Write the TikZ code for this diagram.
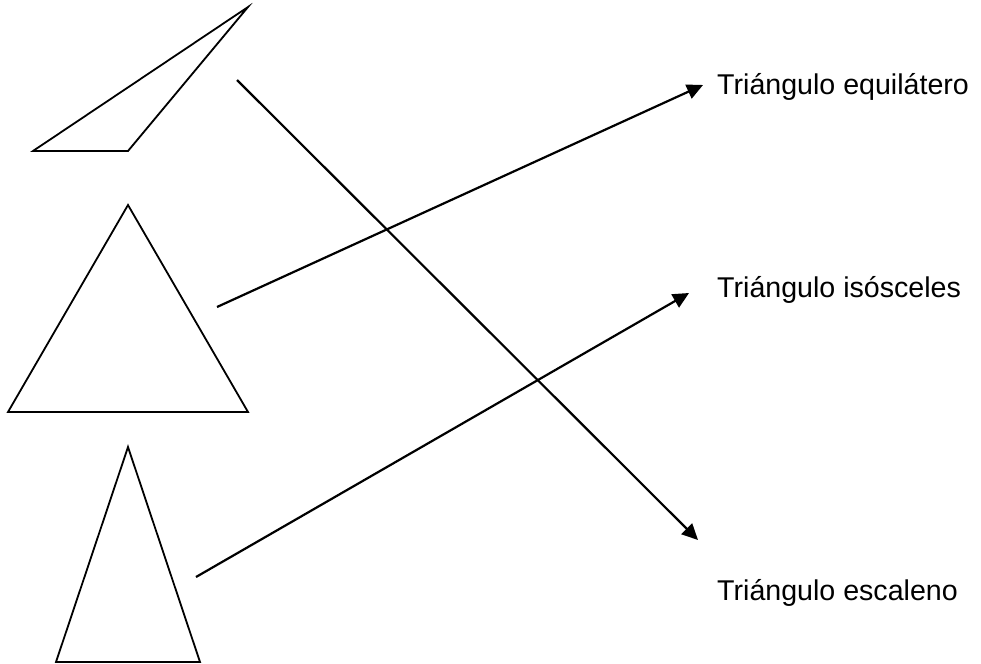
\documentclass[tikz,border=0pt]{standalone}
\usepackage{fontspec}
\setmainfont{Liberation Sans}
\usetikzlibrary{arrows.meta}
\begin{document}
\begin{tikzpicture}[x=1pt,y=-1pt,
  shape line/.style={line width=1.8pt, line join=miter},
  link/.style={line width=2.2pt, -{Triangle[length=16pt,width=15pt]}},
  label/.style={anchor=base west, inner sep=0pt, font=\fontsize{28.6}{34}\selectfont}]
\useasboundingbox (0,0) rectangle (981,663);
% triangles
\coordinate (a1) at (33,151); \coordinate (a2) at (128,151); \coordinate (a3) at (248,7);
\coordinate (b1) at (8,412); \coordinate (b2) at (248,412); \coordinate (b3) at (128,205);
\coordinate (c1) at (56,662); \coordinate (c2) at (200,662); \coordinate (c3) at (128,447);
\draw[shape line] (a1) -- (a2) -- (a3) -- cycle;
\draw[shape line] (b1) -- (b2) -- (b3) -- cycle;
\draw[shape line] (c1) -- (c2) -- (c3) -- cycle;
% labels
\node[label] (eq) at (717,95) {Triángulo equilátero};
\node[label] (is) at (717,297) {Triángulo isósceles};
\node[label] (es) at (717,600) {Triángulo escaleno};
% arrow ends
\coordinate (s1) at (237,80);  \coordinate (e1) at (698,540);
\coordinate (s2) at (217,307); \coordinate (e2) at (703,85);
\coordinate (s3) at (196,577); \coordinate (e3) at (689,293);
\draw[link] (s1) -- (e1);
\draw[link] (s2) -- (e2);
\draw[link] (s3) -- (e3);
\end{tikzpicture}
\end{document}
